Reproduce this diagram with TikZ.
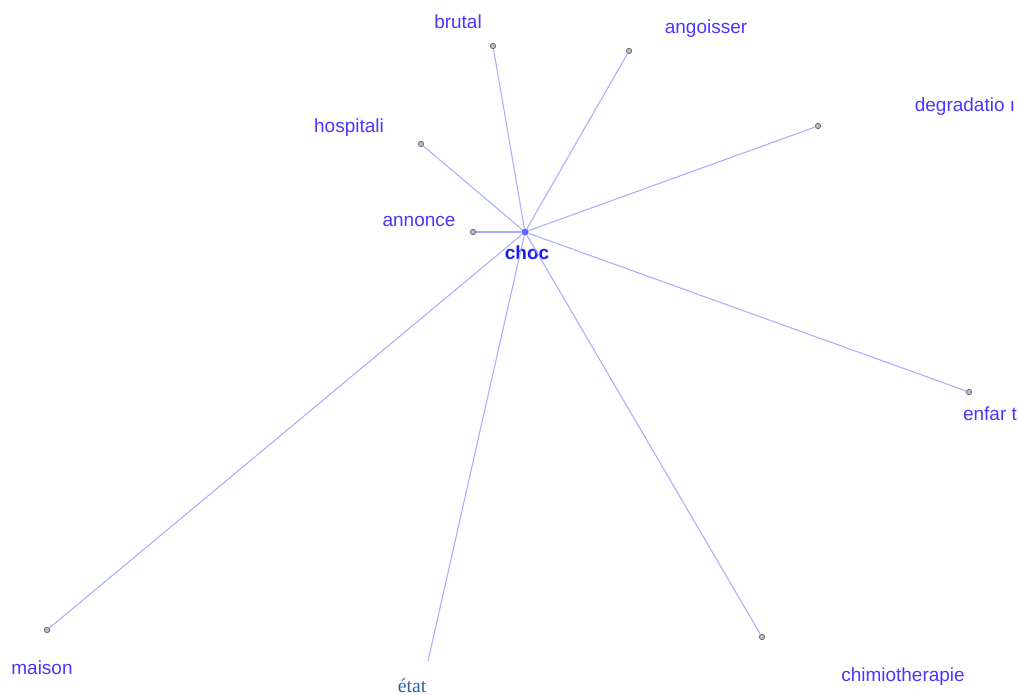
\documentclass[tikz,border=0pt]{standalone}
\usepackage{fontspec}
\setmainfont{Liberation Sans}
\newfontfamily\etatfont{Liberation Serif}
\definecolor{ChocEdge}{HTML}{A8ADFF}
\definecolor{ChocWord}{HTML}{4A35FF}
\definecolor{ChocHub}{HTML}{1A1AF0}
\definecolor{ChocDot}{HTML}{6E6E6E}
\definecolor{ChocEtat}{HTML}{2A609E}

\begin{document}
\begin{tikzpicture}[x=0.025cm,y=-0.025cm,
    word/.style={text=ChocWord,inner sep=0,font=\fontsize{13.5}{15}\selectfont},
    dot/.style={circle,draw=ChocDot,fill=ChocDot!45,line width=0.6pt,minimum size=3.8pt,inner sep=0},
    link/.style={ChocEdge,line width=0.75pt}]
  \useasboundingbox (0,0) rectangle (1018,695);
  % centre
  \node[circle,fill=ChocEdge!50!ChocHub,minimum size=5pt,inner sep=0] (choc) at (525,232) {};
  \node[text=ChocHub,inner sep=0,font=\bfseries\fontsize{13.5}{15}\selectfont] (chocword) at (527,253) {choc};
  % spokes
  \foreach \n/\x/\y in {brutal/493/46,angoisser/629/51,hospitali/421/144,degradation/818/126,
                        annonce/473/232,enfant/969/392,maison/47/630,chimio/762/637} {
    \node[dot] (\n) at (\x,\y) {};
    \draw[link] (choc) -- (\n);
  }
  \coordinate (etat) at (428,661);
  \draw[link] (choc) -- (etat);
  % words
  \foreach \n/\x/\y/\t in {brutal/458/22/brutal,angoisser/706/29/angoisser,hospitali/349/128/hospitali,
                           degradation/965/107/degradatio ı,annonce/419/221/annonce,enfant/990/414/enfar t,
                           maison/42/668/maison,chimio/903/677/chimiotherapie} {
    \node[word] (\n-word) at (\x,\y) {\t};
  }
  \node[text=ChocEtat,inner sep=0,font=\etatfont\fontsize{14}{16}\selectfont] (etat-word) at (412,686) {état};
\end{tikzpicture}
\end{document}
